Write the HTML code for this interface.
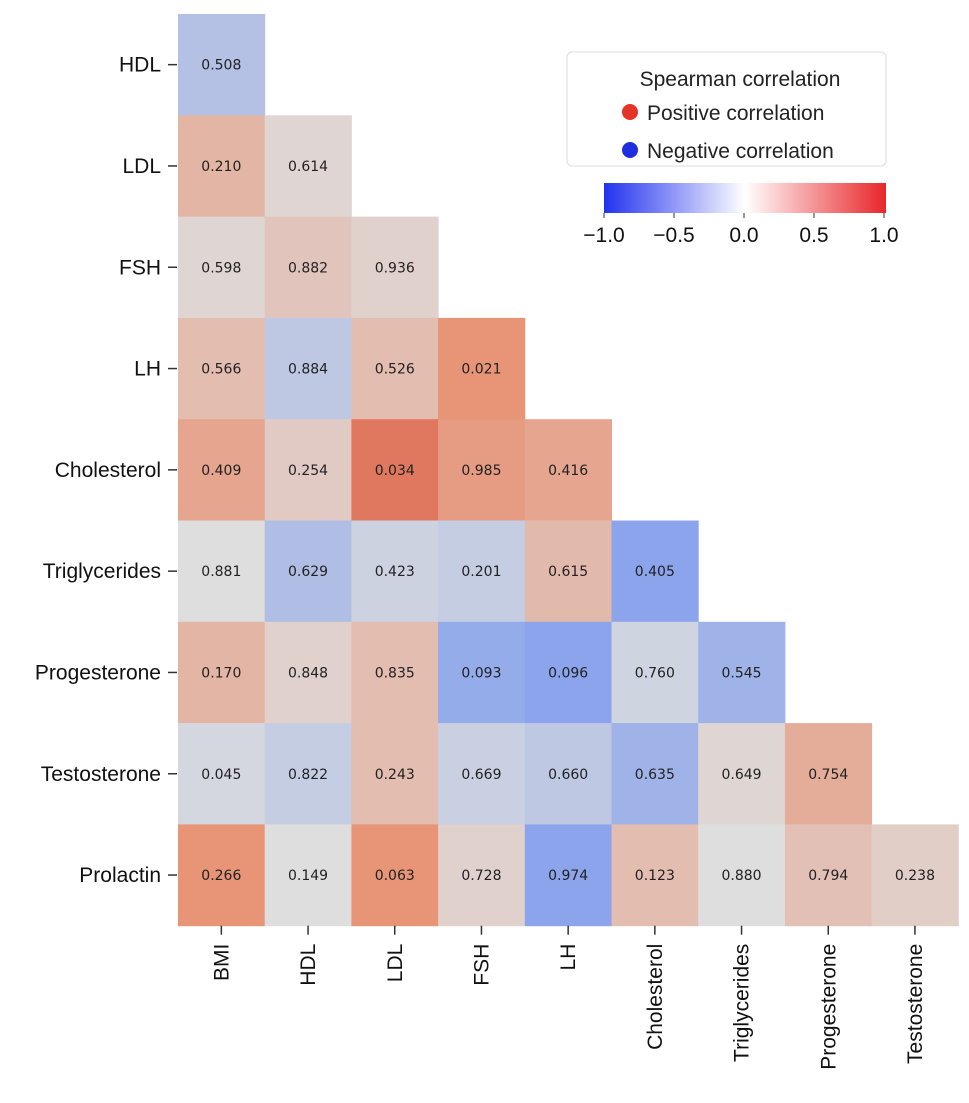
<!DOCTYPE html>
<html><head><meta charset="utf-8"><style>
body{margin:0;background:#fff;}
svg{display:block;font-family:"Liberation Sans",Arial,sans-serif;}
</style></head><body>
<svg id="chart" width="969" height="1103" viewBox="0 0 969 1103">
<defs>
<linearGradient id="bwr" x1="0" x2="1" y1="0" y2="0">
<stop offset="0" stop-color="#2233ee"/><stop offset="0.5" stop-color="#ffffff"/><stop offset="1" stop-color="#e8262a"/>
</linearGradient>
</defs>
<g id="cells"></g>
<g id="ylabels"></g>
<g id="xlabels"></g>
<g>
<rect x="567" y="52" width="319" height="114" rx="5" fill="#fff" stroke="#ddd"/>
<text x="740" y="86" font-size="21" text-anchor="middle" fill="#222">Spearman correlation</text>
<circle cx="630" cy="112" r="8" fill="#e53326"/>
<text x="647" y="120" font-size="21" fill="#222">Positive correlation</text>
<circle cx="630" cy="150" r="8" fill="#1f2fe0"/>
<text x="647" y="158" font-size="21" fill="#222">Negative correlation</text>
</g>
<g>
<rect x="604" y="183" width="282" height="30" fill="url(#bwr)"/>
<g id="cbticks"></g>
</g>
</svg>
<script>
const labels=["BMI","HDL","LDL","FSH","LH","Cholesterol","Triglycerides","Progesterone","Testosterone","Prolactin"];
const corrValues=[
[],
[-0.2],
[0.25,0.05],
[0.05,0.15,0.08],
[0.2,-0.15,0.2,0.45],
[0.35,0.12,0.6,0.4,0.35],
[0.0,-0.22,-0.08,-0.12,0.22,-0.4],
[0.25,0.08,0.2,-0.35,-0.4,-0.07,-0.3],
[-0.05,-0.12,0.2,-0.1,-0.15,-0.3,0.05,0.3],
[0.45,0.0,0.45,0.08,-0.4,0.2,0.0,0.18,0.1]
];
const pValues=[
[],
["0.508"],
["0.210","0.614"],
["0.598","0.882","0.936"],
["0.566","0.884","0.526","0.021"],
["0.409","0.254","0.034","0.985","0.416"],
["0.881","0.629","0.423","0.201","0.615","0.405"],
["0.170","0.848","0.835","0.093","0.096","0.760","0.545"],
["0.045","0.822","0.243","0.669","0.660","0.635","0.649","0.754"],
["0.266","0.149","0.063","0.728","0.974","0.123","0.880","0.794","0.238"]
];
const cbTicks=[-1.0,-0.5,0.0,0.5,1.0];
const cbTickLabels=["\u22121.0","\u22120.5","0.0","0.5","1.0"];

const NS="http://www.w3.org/2000/svg";
const x0=178,cw=86.7,y0=14,ch=101.3;
const xPos=i=>x0+i*cw, yPos=j=>y0+(j-1)*ch;
const stops=[[-1,[60,80,215]],[-0.5,[118,150,240]],[0,[222,222,222]],[0.5,[232,140,108]],[1,[185,40,40]]];
function color(v){
  for(let k=0;k<stops.length-1;k++){const[a,ca]=stops[k],[b,cb]=stops[k+1];
    if(v<=b){const t=(v-a)/(b-a);return "rgb("+ca.map((c,i)=>Math.round(c+(cb[i]-c)*t)).join(",")+")";}}
  return "rgb(185,40,40)";
}
function mk(tag,attrs,parent){const e=document.createElementNS(NS,tag);for(const k in attrs)e.setAttribute(k,attrs[k]);parent.appendChild(e);return e;}
const cells=document.getElementById("cells");
for(let j=1;j<labels.length;j++){
  for(let i=0;i<j;i++){
    const r=mk("rect",{x:xPos(i),y:yPos(j),width:cw+0.5,height:ch+0.5,fill:color(corrValues[j][i])},cells);
    
    
    const t=mk("text",{x:xPos(i)+cw/2,y:yPos(j)+ch/2+5,"font-size":14,"text-anchor":"middle",fill:"#222","font-family":"DejaVu Sans, sans-serif"},cells);
    t.textContent=pValues[j][i];
    
    
  }
}
const yl=document.getElementById("ylabels");
for(let j=1;j<labels.length;j++){
  const cy=yPos(j)+ch/2;
  const l=mk("line",{x1:168,x2:177,y1:cy,y2:cy,stroke:"#333","stroke-width":1.5},yl);
  
  
  const t=mk("text",{x:161,y:cy+7,"font-size":21,"text-anchor":"end",fill:"#111"},yl);
  t.textContent=labels[j];
  
  
}
const xl=document.getElementById("xlabels");
const yb=y0+9*ch;
for(let i=0;i<labels.length-1;i++){
  const cx=xPos(i)+cw/2;
  const l=mk("line",{x1:cx,x2:cx,y1:yb,y2:yb+9,stroke:"#333","stroke-width":1.5},xl);
  
  
  const t=mk("text",{x:0,y:0,"font-size":21,"text-anchor":"end",fill:"#111",transform:"translate("+(cx+7)+","+(yb+18)+") rotate(-90)"},xl);
  t.textContent=labels[i];
  
  
}
const cbt=document.getElementById("cbticks");
const cbX=v=>604+(v+1)/2*280;
cbTicks.forEach((v,k)=>{
  const l=mk("line",{x1:cbX(v),x2:cbX(v),y1:213,y2:218,stroke:"#333"},cbt);
  
  
  const t=mk("text",{x:cbX(v),y:242,"font-size":21,"text-anchor":"middle",fill:"#111"},cbt);
  t.textContent=cbTickLabels[k];
  
  
});
</script>
</body></html>
